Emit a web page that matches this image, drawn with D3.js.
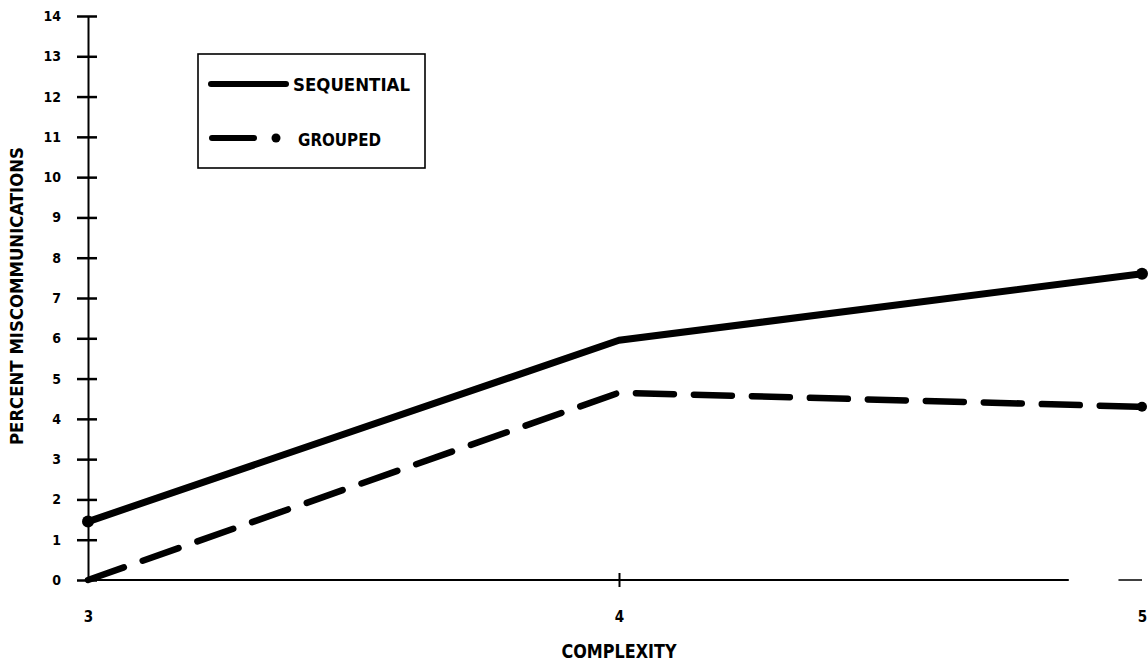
<!DOCTYPE html>
<html>
<head>
<meta charset="utf-8">
<script src="https://cdn.jsdelivr.net/npm/d3@7"></script>
<style>
  html, body { margin: 0; padding: 0; background: #fff; }
  svg { display: block; }
  text { font-family: "Liberation Sans Narrow", "DejaVu Sans Condensed", "Liberation Sans", sans-serif; font-weight: bold; fill: #000; }
</style>
</head>
<body>
<svg id="chart" width="1148" height="664"></svg>
<script>
// ---- data ----
const complexity = [3, 4, 5];
const sequential = [1.45, 5.95, 7.6];
const grouped = [0, 4.65, 4.3];
const yTicks = [0, 1, 2, 3, 4, 5, 6, 7, 8, 9, 10, 11, 12, 13, 14];
const xTicks = [3, 4, 5];
const seriesNames = ["SEQUENTIAL", "GROUPED"];
const xTitle = "COMPLEXITY";
const yTitle = "PERCENT MISCOMMUNICATIONS";

// ---- layout ----
const W = 1148, H = 664;
const svg = d3.select("#chart");
const x = d3.scaleLinear().domain([3, 4, 5]).range([88, 619, 1142]);
const y = d3.scaleLinear().domain([0, 14]).range([580, 16]);

// y axis
const yAxis = d3.axisLeft(y).tickValues(yTicks).tickSize(0).tickFormat(d3.format("d"));
const gy = svg.append("g").attr("transform", `translate(${x(3)},0)`).call(yAxis);
gy.select(".domain").attr("stroke", "#000").attr("stroke-width", 2);
gy.selectAll(".tick text").attr("x", -27).attr("font-size", 14)
  .style("font-family", null).attr("font-family", null);
gy.selectAll(".tick").append("line")
  .attr("x1", -11).attr("x2", 9).attr("y1", 0).attr("y2", 0)
  .attr("stroke", "#000").attr("stroke-width", 2.5);

// x axis
const xAxis = d3.axisBottom(x).tickValues(xTicks).tickSize(0).tickFormat(d3.format("d"));
const gx = svg.append("g").attr("transform", `translate(0,${y(0)})`).call(xAxis);
gx.select(".domain").remove();
gx.selectAll(".tick text").attr("y", 37).attr("dy", "0.35em").attr("font-size", 15)
  .style("font-family", null).attr("font-family", null);
gx.selectAll(".tick").filter(d => d === 4).append("line")
  .attr("y1", -7).attr("y2", 7).attr("stroke", "#000").attr("stroke-width", 2);
// baseline (scan shows a small break near the right end)
gx.append("line").attr("x1", x(3)).attr("x2", x(4.86)).attr("y1", 0).attr("y2", 0)
  .attr("stroke", "#000").attr("stroke-width", 2);
gx.append("line").attr("x1", x(4.955)).attr("x2", x(5)).attr("y1", 0).attr("y2", 0)
  .attr("stroke", "#000").attr("stroke-width", 1.5);

// titles
svg.append("text").attr("x", x(4)).attr("y", 651).attr("dy", "0.35em")
  .attr("text-anchor", "middle").attr("font-size", 19)
  .attr("textLength", 115).attr("lengthAdjust", "spacingAndGlyphs").text(xTitle);
svg.append("text").attr("transform", "translate(17,296) rotate(-90)")
  .attr("dy", "0.35em").attr("text-anchor", "middle").attr("font-size", 18)
  .attr("textLength", 298).attr("lengthAdjust", "spacingAndGlyphs").text(yTitle);

// lines
const line = d3.line().x((d, i) => x(complexity[i])).y(d => y(d));
svg.append("path").datum(sequential).attr("d", line)
  .attr("fill", "none").attr("stroke", "#000").attr("stroke-width", 7)
  .attr("stroke-linecap", "round").attr("stroke-linejoin", "round");
svg.append("path").datum(grouped).attr("d", line)
  .attr("fill", "none").attr("stroke", "#000").attr("stroke-width", 6.5)
  .attr("stroke-dasharray", "38,20").attr("stroke-linecap", "round");

// end dots
svg.append("circle").attr("cx", x(complexity[0])).attr("cy", y(sequential[0])).attr("r", 6).attr("fill", "#000");
svg.append("circle").attr("cx", x(complexity[2])).attr("cy", y(sequential[2])).attr("r", 6).attr("fill", "#000");
svg.append("circle").attr("cx", x(complexity[2])).attr("cy", y(grouped[2])).attr("r", 5).attr("fill", "#000");

// legend
const lg = svg.append("g");
lg.append("rect").attr("x", 198).attr("y", 54).attr("width", 227).attr("height", 114)
  .attr("fill", "none").attr("stroke", "#000").attr("stroke-width", 1.6);
lg.append("line").attr("x1", 211).attr("x2", 286).attr("y1", 84).attr("y2", 84)
  .attr("stroke", "#000").attr("stroke-width", 6).attr("stroke-linecap", "round");
lg.append("text").attr("x", 293).attr("y", 85).attr("dy", "0.35em").attr("font-size", 18)
  .attr("textLength", 117).attr("lengthAdjust", "spacingAndGlyphs").text(seriesNames[0]);
lg.append("line").attr("x1", 212).attr("x2", 254).attr("y1", 138).attr("y2", 138)
  .attr("stroke", "#000").attr("stroke-width", 6).attr("stroke-linecap", "round");
lg.append("circle").attr("cx", 276).attr("cy", 138).attr("r", 4.5).attr("fill", "#000");
lg.append("text").attr("x", 298).attr("y", 140).attr("dy", "0.35em").attr("font-size", 18)
  .attr("textLength", 83).attr("lengthAdjust", "spacingAndGlyphs").text(seriesNames[1]);
</script>
</body>
</html>
